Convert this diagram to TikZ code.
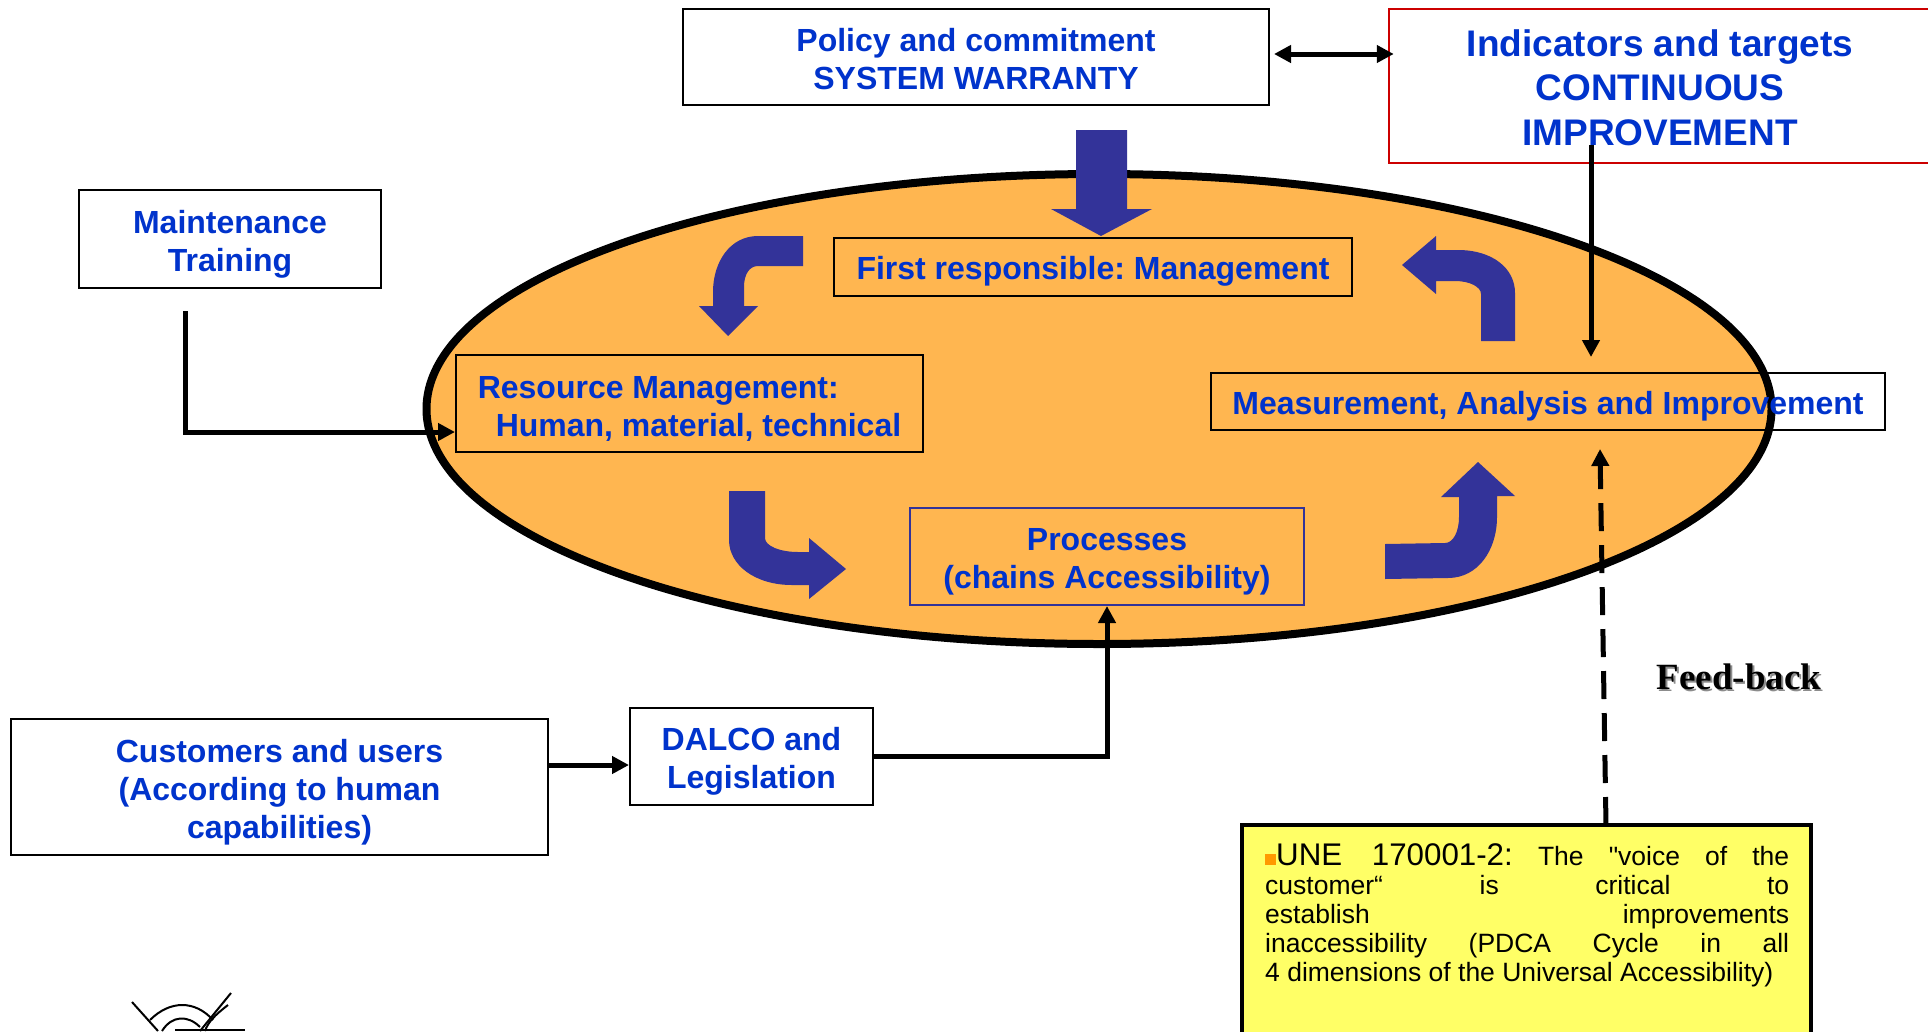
\documentclass[tikz,border=0pt]{standalone}
\usepackage{fontspec}
\setmainfont{Liberation Sans}
\newfontfamily\notefont{Liberation Sans}
\newfontfamily\feedfont{Liberation Serif}
\usetikzlibrary{arrows.meta}
\usetikzlibrary{shapes.geometric}
\definecolor{labelblue}{HTML}{0033CC}
\definecolor{arrowblue}{HTML}{333399}
\definecolor{cycleorange}{HTML}{FFB650}
\definecolor{noteyellow}{HTML}{FFFF66}
\definecolor{bulletorange}{HTML}{FF9900}
\frenchspacing
\tikzset{
	% Boxes with blue bold labels
	label box/.style={rectangle,draw,line width=2,inner sep=0,align=center,text=labelblue,font=\fontsize{32}{38}\selectfont\bfseries},
	% Black connectors and the fat blue arrows of the cycle
	link/.style={line width=5,-{Triangle[length=17,width=17]}},
	turn arrow/.style={fill=arrowblue,draw=none},
	logo line/.style={line width=2}
}

\begin{document}
\begin{tikzpicture}[x=1pt,y=-1pt]
	% macro for pushing a label down in its box
	\newcommand{\toplift}[1][33]{\rule{0pt}{#1pt}}
	\useasboundingbox (0,0) rectangle (1928,1031);
	\clip (0,0) rectangle (1928,1031);

	\node(cycle)[ellipse,draw,line width=8,fill=cycleorange,inner sep=0,minimum width=1345,minimum height=470]at(1099,409){};

	% fat arrows
	\fill[turn arrow](1076,130)--(1127,130)--(1127,209)--(1152,209)--(1101,236)--(1051,209)--(1076,209)--cycle;
	\fill[turn arrow](803,236)--(758,236) .. controls (730,236) and (713,262) .. (713,292)--(713,306)--(699,306)--(728,336)--(758,306)--(744,306)--(744,287) .. controls (744,275) and (749,266) .. (758,266)--(803,266)--cycle;
	\fill[turn arrow](1402,265)--(1436,236)--(1436,250)--(1458,250) .. controls (1492,250) and (1515,268) .. (1515,293)--(1515,341)--(1481,341)--(1481,294) .. controls (1481,287) and (1470,281) .. (1455,281)--(1436,281)--(1436,294)--cycle;
	\fill[turn arrow](729,491)--(765,491)--(765,538) .. controls (765,546) and (780,552) .. (798,552)--(809,552)--(809,538)--(846,569)--(809,599)--(809,585)--(792,585) .. controls (755,585) and (729,565) .. (729,540)--cycle;
	\fill[turn arrow](1385,544)--(1445,543) .. controls (1453,543) and (1459,532) .. (1459,517)--(1459,497)--(1441,497)--(1478,462)--(1515,496)--(1497,496)--(1497,517) .. controls (1497,550) and (1478,578) .. (1448,578)--(1385,579)--cycle;

	% boxes
	\node(policy)[label box,fill=white,minimum width=586,minimum height=96]at(976,57){\toplift[28]Policy and commitment\\SYSTEM WARRANTY};
	\node(indicators)[label box,draw=red!80!black,line width=2.5,fill=white,minimum width=542,minimum height=154,font=\fontsize{37}{44.5}\selectfont\bfseries]at(1660,86){\toplift[30]Indicators and targets\\CONTINUOUS\\IMPROVEMENT};
	\node(maintenance)[label box,fill=white,minimum width=302,minimum height=98]at(230,239){\toplift Maintenance\\Training};
	\node(first)[label box,minimum width=518,minimum height=58]at(1093,267){\toplift[31]First responsible: Management};
	\node(resource)[label box,align=left,minimum width=467,minimum height=97]at(689.5,403.5){\toplift Resource Management:\\\hspace*{18pt}Human, material, technical};
	\node(measure)[label box,minimum width=674,minimum height=57]at(1548,401.5){\toplift Measurement, Analysis and Improvement};
	\node(processes)[label box,draw=arrowblue,minimum width=394,minimum height=97]at(1107,556.5){\toplift Processes\\(chains Accessibility)};
	\node(customers)[label box,fill=white,minimum width=537,minimum height=136]at(279.5,787){\toplift Customers and users\\(According to human\\capabilities)};
	\node(dalco)[label box,fill=white,minimum width=243,minimum height=97]at(751.5,756.5){\toplift DALCO and\\Legislation};
	\node(note)[rectangle,draw,line width=4,fill=noteyellow,inner sep=0,outer sep=0,minimum width=569,minimum height=215,anchor=north west]at(1242,825){};
	\node(notetext)[anchor=north west,inner sep=0,text width=524,align=justify,font=\notefont\fontsize{26.5}{29.2}\selectfont]at(1265,843){{\color{bulletorange}\rule{11pt}{11pt}}{\fontsize{31.3}{29.2}\selectfont UNE 170001-2:} The "voice of the\linebreak customer“ is critical to\linebreak establish improvements\linebreak inaccessibility (PDCA Cycle in all\linebreak 4 dimensions of the Universal Accessibility)};
	\node(feedback shadow)[text=black!45,font=\fontsize{37}{42}\selectfont\bfseries\feedfont]at(1741,679){Feed-back};
	\node(feedback)[font=\fontsize{37}{42}\selectfont\bfseries\feedfont]at(1739,677){Feed-back};

	% connectors
	\coordinate(maintenance-out)at(185,311);
	\coordinate(indicators-out)at(1591,145);
	\coordinate(measure-in)at(1591,357);
	\coordinate(feedback-in)at(1600,449);
	\draw[link](maintenance-out)|-(resource.west|-0,432);
	\draw[link](customers.east|-0,765)--(dalco.west|-0,765);
	\draw[link](dalco.east)-|(processes.south);
	\draw[line width=5,{Triangle[length=17,width=17]}-{Triangle[length=17,width=17]}](policy.east|-0,54)++(4,0)--(indicators.west|-0,54)--++(6,0);
	\draw[link](indicators-out)--(measure-in);
	\draw[link,dash pattern=on 28 off 14](note.north-|1606,0)--(feedback-in);

	% logo
	\draw[logo line](132,1002)--(158,1031);
	\draw[logo line](231,993)--(200,1031);
	\draw[logo line](228,1005) .. controls (215,1015) and (208,1022) .. (205,1031);
	\draw[logo line](150,1020) .. controls (170,1000) and (195,1000) .. (213,1020);
	\draw[logo line](162,1031) .. controls (172,1015) and (188,1015) .. (200,1027);
	\fill(175,1029) rectangle (245,1031);
\end{tikzpicture}
\end{document}
